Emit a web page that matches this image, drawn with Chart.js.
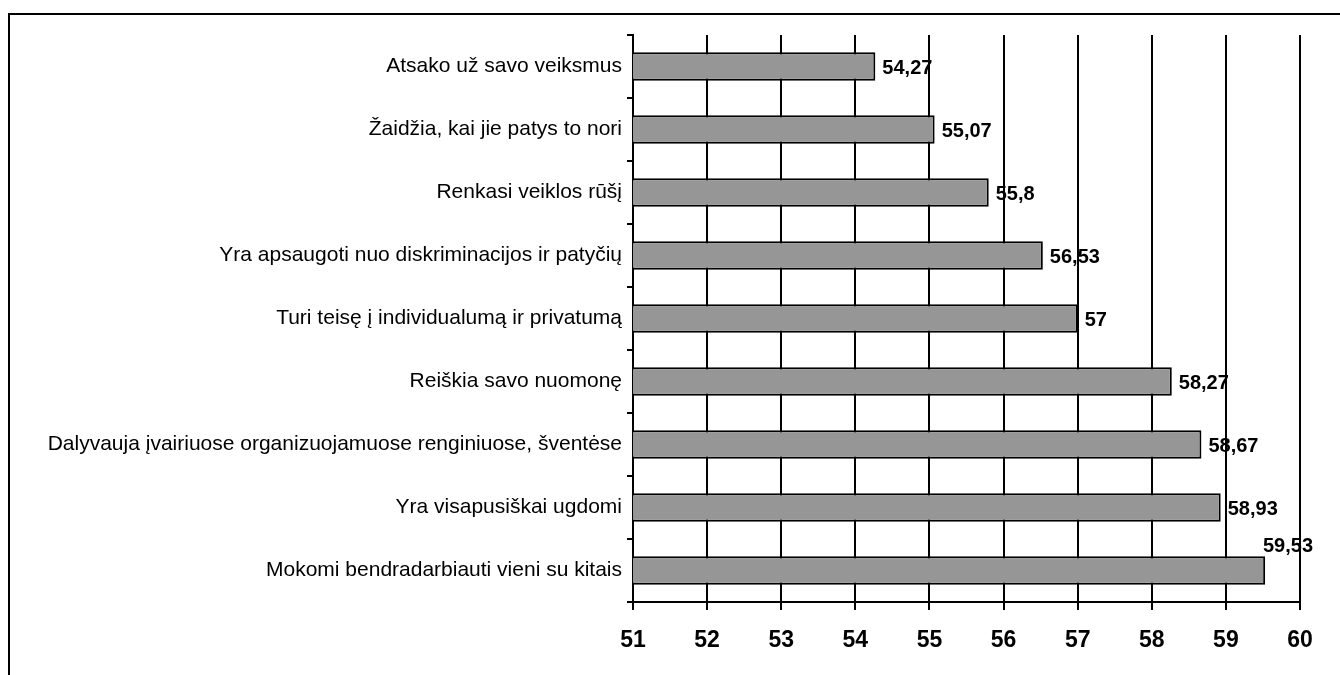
<!DOCTYPE html>
<html>
<head>
<meta charset="utf-8">
<script src="https://cdn.jsdelivr.net/npm/chart.js@4/dist/chart.umd.min.js"></script>
<style>
  html, body { margin: 0; padding: 0; background: #fff; }
  #wrap { position: relative; width: 1340px; height: 675px; overflow: hidden; }
  #frame { position: absolute; left: 8px; top: 13px; width: 1400px; height: 700px;
           border-left: 2px solid #000; border-top: 2px solid #000; }
  canvas { position: absolute; left: 0; top: 0; }
</style>
</head>
<body>
<div id="wrap">
  <div id="frame"></div>
  <canvas id="barChart" width="1340" height="675"></canvas>
</div>
<script>
const categories = [
    'Atsako už savo veiksmus',
    'Žaidžia, kai jie patys to nori',
    'Renkasi veiklos rūšį',
    'Yra apsaugoti nuo diskriminacijos ir patyčių',
    'Turi teisę į individualumą ir privatumą',
    'Reiškia savo nuomonę',
    'Dalyvauja įvairiuose organizuojamuose renginiuose, šventėse',
    'Yra visapusiškai ugdomi',
    'Mokomi bendradarbiauti vieni su kitais'
];
const scores = [54.27, 55.07, 55.8, 56.53, 57, 58.27, 58.67, 58.93, 59.53];
const axisMin = 51;
const axisMax = 60;

const fmt = v => String(v).replace('.', ',');

// value labels next to bar ends, pulled back inside when they would run off
const valueLabels = {
    id: 'valueLabels',
    afterDatasetsDraw(chart) {
        const ctx = chart.ctx;
        const area = chart.chartArea;
        const meta = chart.getDatasetMeta(0);
        ctx.save();
        ctx.font = 'bold 20px "Liberation Sans", Arial, sans-serif';
        ctx.fillStyle = '#000';
        ctx.textBaseline = 'middle';
        ctx.textAlign = 'left';
        meta.data.forEach((bar, i) => {
            const txt = fmt(scores[i]);
            const w = ctx.measureText(txt).width;
            let x = bar.x + 7;
            let y = bar.y + 2;
            if (x + w > area.right + 16) {
                x = area.right + 13 - w;
                y = bar.y - bar.height / 2 - 10;
            }
            ctx.fillText(txt, x, y);
        });
        ctx.restore();
    }
};

const ctx = document.getElementById('barChart').getContext('2d');
const barChart = new Chart(ctx, {
    type: 'bar',
    data: {
        labels: categories,
        datasets: [{
            data: scores,
            backgroundColor: '#969696',
            borderColor: '#000',
            borderWidth: 2,
            borderSkipped: false,
            barPercentage: 0.45,
            categoryPercentage: 1
        }]
    },
    options: {
        indexAxis: 'y',
        responsive: false,
        animation: false,
        layout: { padding: { top: 35, right: 40, left: 0, bottom: 0 } },
        plugins: {
            legend: { display: false },
            tooltip: { enabled: false }
        },
        scales: {
            x: {
                min: axisMin,
                max: axisMax,
                afterFit: s => { s.height = 73; },
                ticks: {
                    stepSize: 1,
                    color: '#000',
                    padding: 17,
                    font: { family: '"Liberation Sans", Arial, sans-serif', size: 23, weight: 'bold' }
                },
                grid: { color: '#000', lineWidth: 2, tickLength: 8 },
                border: { color: '#000', width: 2 }
            },
            y: {
                afterFit: s => { s.width = 633; },
                ticks: {
                    color: '#000',
                    padding: 5,
                    font: { family: '"Liberation Sans", Arial, sans-serif', size: 21 }
                },
                grid: { offset: true, drawOnChartArea: false, color: '#000', lineWidth: 2, tickLength: 6 },
                border: { color: '#000', width: 2 }
            }
        }
    },
    plugins: [valueLabels]
});
</script>
</body>
</html>
